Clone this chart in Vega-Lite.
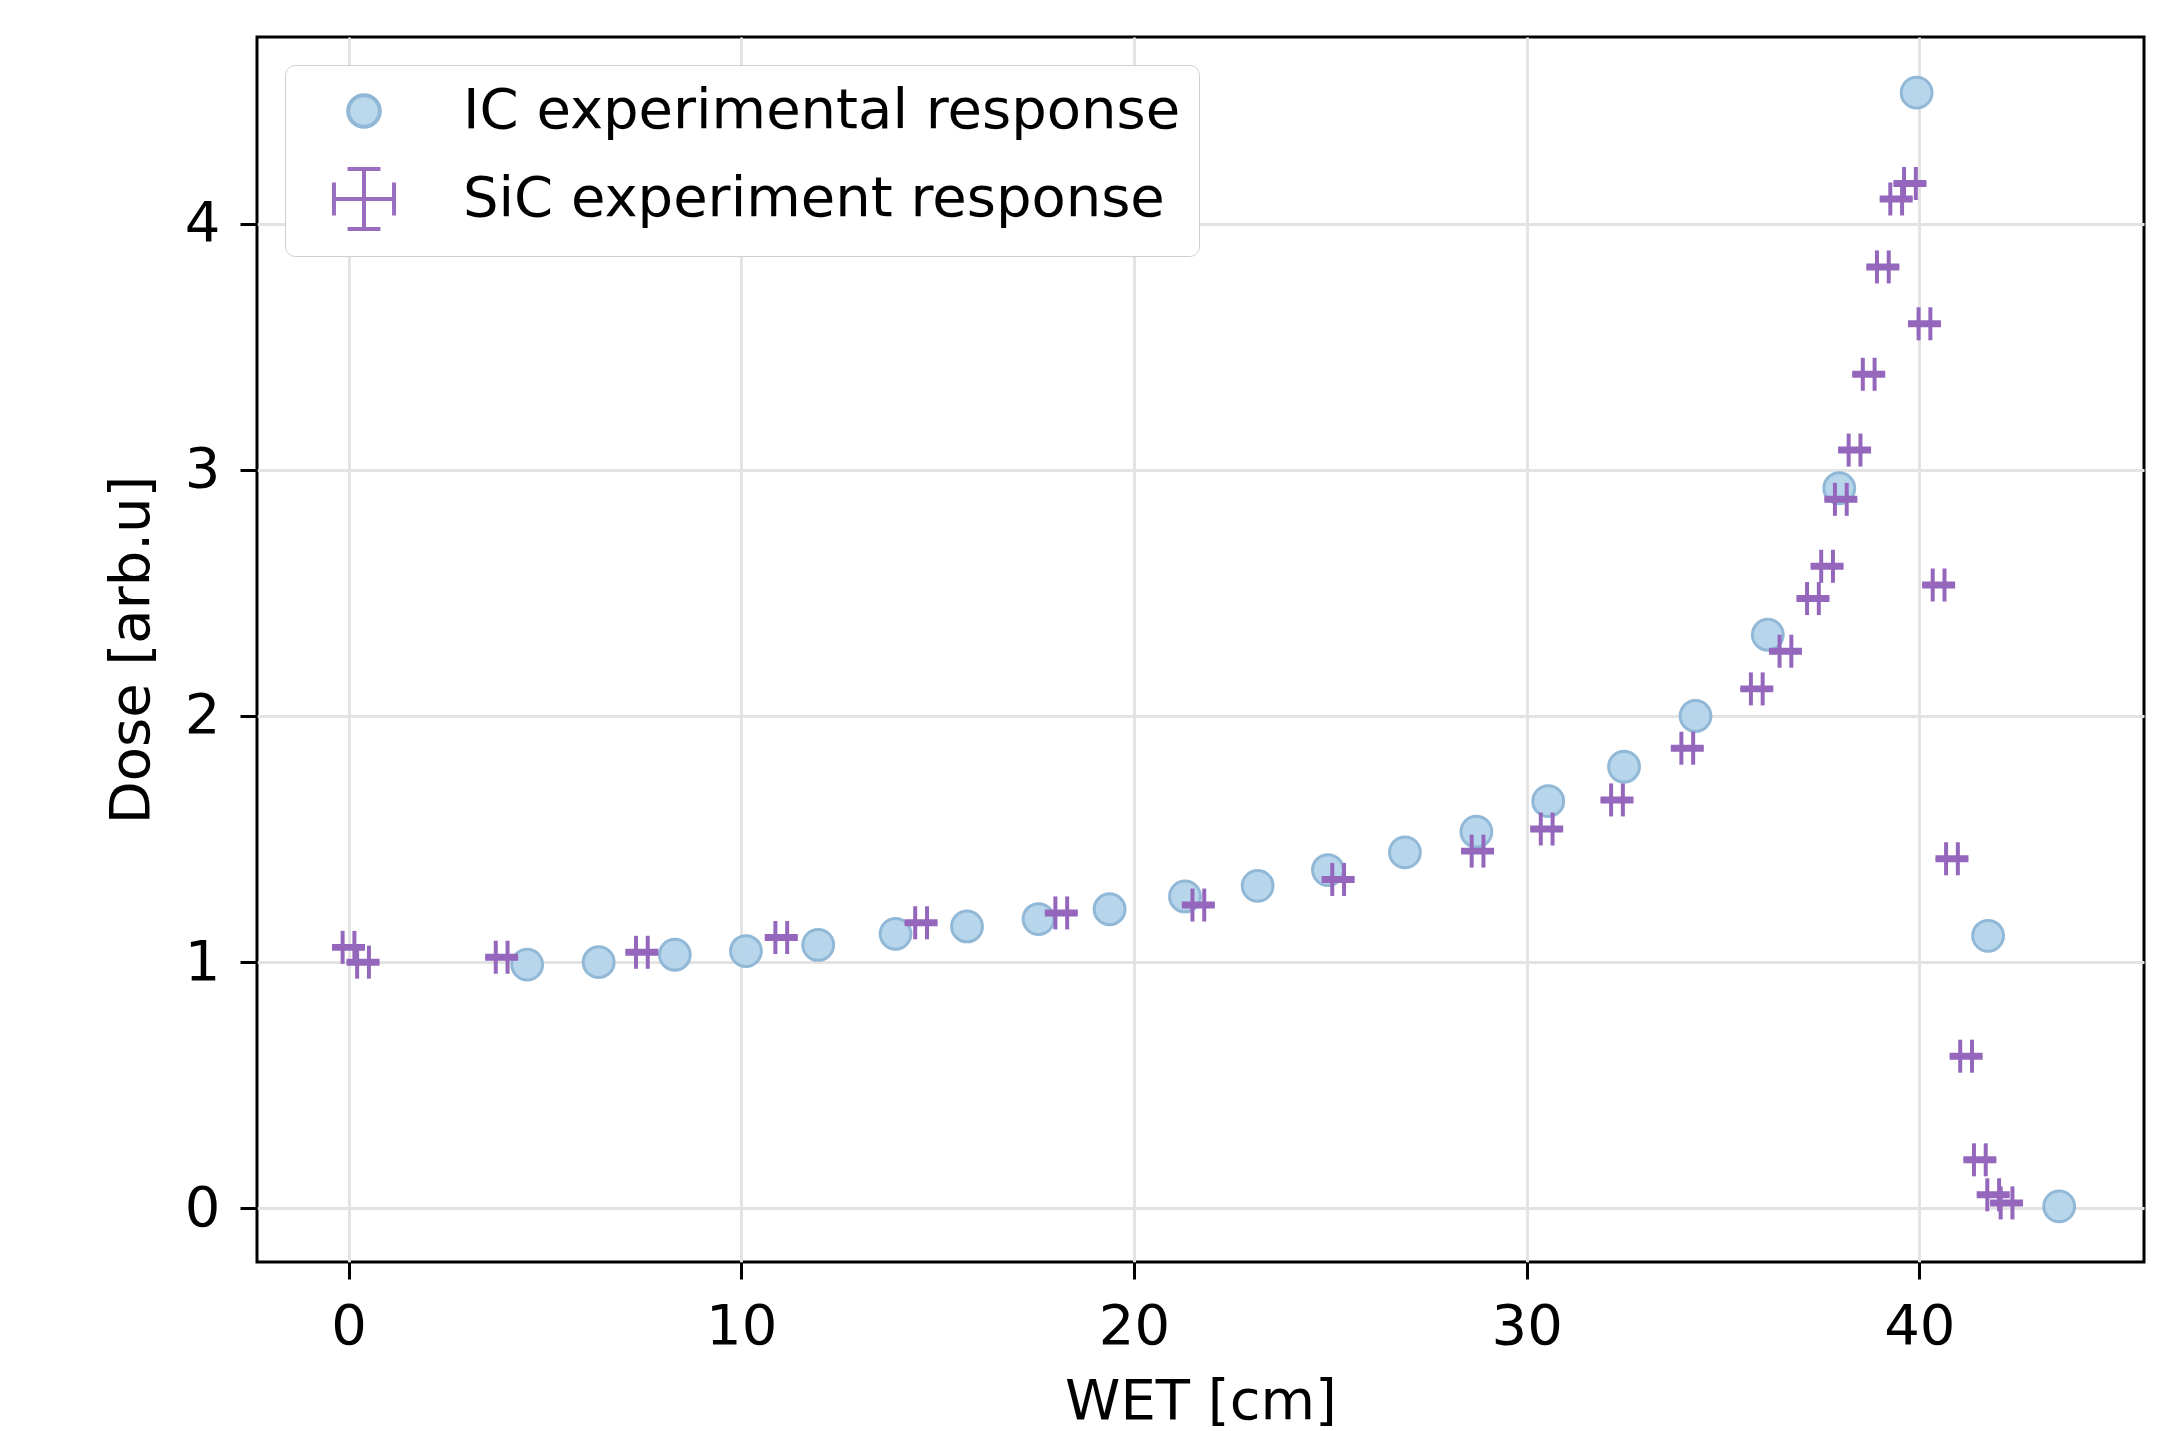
{
  "$schema": "https://vega.github.io/schema/vega-lite/v6.json",
  "width": 1887,
  "height": 1225,
  "autosize": {"type": "none"},
  "padding": {"left": 257, "top": 37, "right": 14, "bottom": 169},
  "background": "white",
  "config": {
    "view": {"stroke": "black", "strokeWidth": 3},
    "font": "DejaVu Sans",
    "axis": {
      "labelFont": "DejaVu Sans",
      "titleFont": "DejaVu Sans",
      "labelFontSize": 56,
      "titleFontSize": 56,
      "titleFontWeight": "normal",
      "labelColor": "black",
      "titleColor": "black",
      "tickColor": "black",
      "tickWidth": 3,
      "tickSize": 17,
      "domain": false,
      "gridColor": "#e3e3e3",
      "gridWidth": 3
    },
    "legend": {
      "labelFont": "DejaVu Sans",
      "labelFontSize": 56,
      "labelColor": "black",
      "labelLimit": 2000
    }
  },
  "datasets": {
    "ic": [
      {"wet": 4.55, "dose": 0.99, "series": "IC experimental response"},
      {"wet": 6.37, "dose": 1.0, "series": "IC experimental response"},
      {"wet": 8.31, "dose": 1.03, "series": "IC experimental response"},
      {"wet": 10.12, "dose": 1.045, "series": "IC experimental response"},
      {"wet": 11.96, "dose": 1.07, "series": "IC experimental response"},
      {"wet": 13.93, "dose": 1.115, "series": "IC experimental response"},
      {"wet": 15.75, "dose": 1.145, "series": "IC experimental response"},
      {"wet": 17.57, "dose": 1.175, "series": "IC experimental response"},
      {"wet": 19.38, "dose": 1.215, "series": "IC experimental response"},
      {"wet": 21.3, "dose": 1.267, "series": "IC experimental response"},
      {"wet": 23.15, "dose": 1.31, "series": "IC experimental response"},
      {"wet": 24.94, "dose": 1.374, "series": "IC experimental response"},
      {"wet": 26.9, "dose": 1.446, "series": "IC experimental response"},
      {"wet": 28.72, "dose": 1.53, "series": "IC experimental response"},
      {"wet": 30.55, "dose": 1.654, "series": "IC experimental response"},
      {"wet": 32.48, "dose": 1.794, "series": "IC experimental response"},
      {"wet": 34.3, "dose": 2.0, "series": "IC experimental response"},
      {"wet": 36.14, "dose": 2.33, "series": "IC experimental response"},
      {"wet": 37.96, "dose": 2.925, "series": "IC experimental response"},
      {"wet": 39.93, "dose": 4.532, "series": "IC experimental response"},
      {"wet": 41.75, "dose": 1.107, "series": "IC experimental response"},
      {"wet": 43.56, "dose": 0.008, "series": "IC experimental response"}
    ],
    "sic": [
      {"wet": 0.0, "dose": 1.06, "xerr": 0.15, "yerr": 0.006},
      {"wet": 0.37, "dose": 1.0, "xerr": 0.15, "yerr": 0.006},
      {"wet": 3.9, "dose": 1.02, "xerr": 0.15, "yerr": 0.006},
      {"wet": 7.47, "dose": 1.04, "xerr": 0.15, "yerr": 0.006},
      {"wet": 11.02, "dose": 1.1, "xerr": 0.15, "yerr": 0.006},
      {"wet": 14.58, "dose": 1.16, "xerr": 0.15, "yerr": 0.006},
      {"wet": 18.15, "dose": 1.2, "xerr": 0.15, "yerr": 0.006},
      {"wet": 21.64, "dose": 1.232, "xerr": 0.15, "yerr": 0.006},
      {"wet": 25.2, "dose": 1.336, "xerr": 0.15, "yerr": 0.006},
      {"wet": 28.75, "dose": 1.451, "xerr": 0.15, "yerr": 0.006},
      {"wet": 30.51, "dose": 1.541, "xerr": 0.15, "yerr": 0.006},
      {"wet": 32.3, "dose": 1.659, "xerr": 0.15, "yerr": 0.006},
      {"wet": 34.09, "dose": 1.869, "xerr": 0.15, "yerr": 0.006},
      {"wet": 35.86, "dose": 2.11, "xerr": 0.15, "yerr": 0.006},
      {"wet": 36.59, "dose": 2.263, "xerr": 0.15, "yerr": 0.006},
      {"wet": 37.29, "dose": 2.477, "xerr": 0.15, "yerr": 0.006},
      {"wet": 37.65, "dose": 2.608, "xerr": 0.15, "yerr": 0.006},
      {"wet": 38.0, "dose": 2.88, "xerr": 0.15, "yerr": 0.006},
      {"wet": 38.35, "dose": 3.08, "xerr": 0.15, "yerr": 0.006},
      {"wet": 38.71, "dose": 3.388, "xerr": 0.15, "yerr": 0.006},
      {"wet": 39.07, "dose": 3.824, "xerr": 0.15, "yerr": 0.006},
      {"wet": 39.41, "dose": 4.1, "xerr": 0.15, "yerr": 0.006},
      {"wet": 39.76, "dose": 4.163, "xerr": 0.15, "yerr": 0.006},
      {"wet": 40.13, "dose": 3.593, "xerr": 0.15, "yerr": 0.006},
      {"wet": 40.49, "dose": 2.532, "xerr": 0.15, "yerr": 0.006},
      {"wet": 40.83, "dose": 1.42, "xerr": 0.15, "yerr": 0.006},
      {"wet": 41.19, "dose": 0.618, "xerr": 0.15, "yerr": 0.006},
      {"wet": 41.54, "dose": 0.197, "xerr": 0.15, "yerr": 0.006},
      {"wet": 41.88, "dose": 0.055, "xerr": 0.15, "yerr": 0.006},
      {"wet": 42.22, "dose": 0.022, "xerr": 0.15, "yerr": 0.006}
    ]
  },
  "encoding": {
    "x": {
      "field": "wet",
      "type": "quantitative",
      "scale": {"domain": [-2.33, 45.72], "nice": false, "zero": false},
      "axis": {"title": "WET [cm]", "values": [0, 10, 20, 30, 40], "labelPadding": 20, "titlePadding": 20, "grid": true}
    },
    "y": {
      "field": "dose",
      "type": "quantitative",
      "scale": {"domain": [-0.218, 4.758], "nice": false, "zero": false},
      "axis": {"title": "Dose [arb.u]", "values": [0, 1, 2, 3, 4], "labelPadding": 20, "titlePadding": 24, "grid": true}
    }
  },
  "layer": [
    {
      "data": {"name": "ic"},
      "mark": {"type": "point", "filled": true, "size": 950, "strokeWidth": 3, "opacity": 0.95},
      "encoding": {
        "fill": {
          "field": "series",
          "type": "nominal",
          "scale": {"domain": ["IC experimental response", "SiC experiment response"], "range": ["#b5d4ea", "transparent"]},
          "legend": {
            "title": null,
            "orient": "none",
            "legendX": 28,
            "legendY": 28,
            "padding": 18,
            "symbolOffset": 33,
            "labelOffset": 71,
            "rowPadding": 21,
            "symbolSize": 1000,
            "symbolStrokeWidth": 4,
            "labelBaseline": "middle",
            "fillColor": "white",
            "strokeColor": "#cfcfcf",
            "cornerRadius": 10
          }
        },
        "stroke": {
          "field": "series",
          "type": "nominal",
          "scale": {"domain": ["IC experimental response", "SiC experiment response"], "range": ["#8cb5d5", "#9467bd"]}
        },
        "shape": {
          "field": "series",
          "type": "nominal",
          "scale": {"domain": ["IC experimental response", "SiC experiment response"], "range": ["circle", "M0,-1.9L0,1.9M-1.04,-1.9L1.04,-1.9M-1.04,1.9L1.04,1.9M-1.9,0L1.9,0M-1.9,-1.04L-1.9,1.04M1.9,-1.04L1.9,1.04"]}
        }
      }
    },
    {
      "data": {"name": "sic"},
      "mark": {"type": "errorbar", "ticks": {"size": 33, "thickness": 4, "opacity": 1}, "rule": {"strokeWidth": 4, "opacity": 1}, "thickness": 4, "opacity": 1, "color": "#9467bd"},
      "encoding": {"xError": {"field": "xerr"}}
    },
    {
      "data": {"name": "sic"},
      "mark": {"type": "errorbar", "ticks": {"size": 33, "thickness": 4, "opacity": 1}, "rule": {"strokeWidth": 4, "opacity": 1}, "thickness": 4, "opacity": 1, "color": "#9467bd"},
      "encoding": {"yError": {"field": "yerr"}}
    }
  ]
}
